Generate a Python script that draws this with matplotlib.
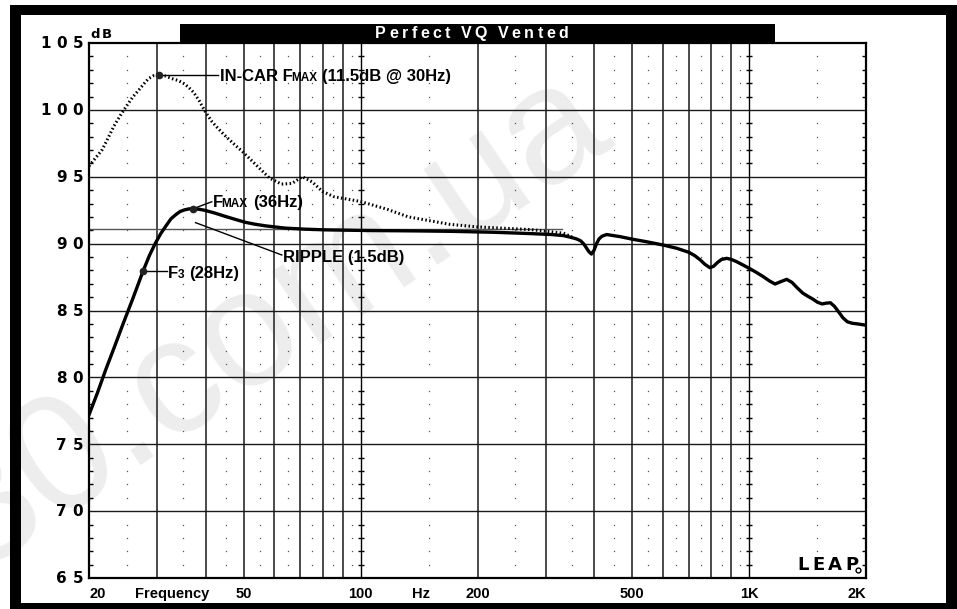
import matplotlib
matplotlib.use("Agg")
import matplotlib.pyplot as plt
from matplotlib.patches import Rectangle

W, H = 957, 609

# Perfect VQ vented response (solid) and in-car response (dotted)
solid_hz = [20, 21, 22.1, 23.2, 24.4, 25.9, 27.6, 28.6, 29.6, 30.6, 31.6, 32.5, 33.4, 34.3, 35.2, 36.2,
            37.2, 38.4, 39.6, 42, 44.7, 47.5, 50.4, 53.5, 56.9, 64, 72, 81, 104, 140, 170, 220, 274,
            310, 333, 350, 360, 369, 376, 381, 387, 393, 399, 405, 411, 418, 430, 466, 503, 545,
            600, 652, 700, 725, 749, 770, 793, 810, 830, 850, 876, 900, 929, 965, 1000, 1040, 1088,
            1130, 1167, 1205, 1250, 1290, 1330, 1375, 1420, 1460, 1500, 1542, 1580, 1620, 1660,
            1700, 1745, 1790, 1840, 1900, 2000]
solid_db = [77.2, 78.8, 80.6, 82.2, 83.9, 85.85, 88.0, 89.1, 90.0, 90.75, 91.35, 91.85, 92.15, 92.4, 92.52, 92.6,
            92.6, 92.57, 92.5, 92.3, 92.05, 91.82, 91.6, 91.45, 91.33, 91.16, 91.08, 91.03, 90.98, 90.95, 90.92, 90.85, 90.75,
            90.68, 90.6, 90.45, 90.35, 90.2, 89.95, 89.7, 89.4, 89.22, 89.5, 90.0, 90.35, 90.55, 90.68, 90.52, 90.32, 90.14,
            89.9, 89.65, 89.35, 89.1, 88.78, 88.45, 88.2, 88.3, 88.6, 88.82, 88.9, 88.82, 88.65, 88.4, 88.16, 87.88, 87.53,
            87.2, 86.98, 87.15, 87.33, 87.1, 86.7, 86.3, 86.05, 85.85, 85.62, 85.49, 85.55, 85.58, 85.3,
            84.9, 84.45, 84.16, 84.05, 84.0, 83.9]

car_hz = [20, 21.6, 22.4, 23.2, 24.1, 25, 25.9, 26.9, 27.7, 28.5, 29.3, 30.2, 31.3, 32.6, 33.9, 35.2,
          36.2, 37.2, 38.4, 39.6, 40.5, 41.5, 43, 44.7, 47, 50, 54.2, 58.3, 62.6, 66.6, 70.8, 75.2,
          79.8, 85.6, 100, 117.6, 132.7, 169, 200, 274, 333, 350]
car_db = [95.8, 97.0, 97.9, 98.8, 99.6, 100.3, 100.95, 101.5, 101.95, 102.35, 102.55, 102.6, 102.55, 102.35, 102.2, 101.95,
          101.65, 101.3, 100.7, 100.0, 99.55, 99.1, 98.6, 98.1, 97.5, 96.8, 95.8, 94.9, 94.45, 94.5, 95.0, 94.6,
          93.9, 93.5, 93.15, 92.55, 92.0, 91.45, 91.25, 91.05, 90.78, 90.5]

ripple_db = 91.12
ripple_hz = [20, 330]

# grid
grid_hz = [30, 40, 50, 60, 70, 80, 90, 200, 300, 400, 500, 600, 700, 800, 900]
grid_major_hz = [100, 1000]
dot_hz = [25, 35, 45, 55, 65, 75, 85, 95, 150, 250, 350, 450, 550, 650, 750, 850, 950, 1500]
db_levels = [65, 70, 75, 80, 85, 90, 95, 100, 105]
minor_db = [d for d in range(66, 105) if d % 5]

x_text = ["20", "Frequency", "50", "100", "Hz", "200", "500", "1K", "2K"]
x_text_hz = [20, 32.7, 50, 100, 143, 200, 500, 1000, 2000]
x_text_ha = ["left", "center", "center", "center", "center", "center", "center", "center", "right"]

# callouts: marker point, leader end
incar_pt, incar_end = (30.2, 102.6), (43.0, 102.6)
fmax_pt, fmax_end = (37.0, 92.6), (41.4, 93.13)
ripple_start, ripple_end = (37.6, 91.57), (62.7, 89.15)
f3_pt, f3_end = (27.6, 87.95), (31.8, 87.95)

fig = plt.figure(figsize=(W / 100, H / 100), dpi=100)
fig.patch.set_facecolor("white")
ax = fig.add_axes([89 / W, 1 - 578 / H, 777 / W, 535 / H])
ax.set_facecolor("none")


def px_rect(x0, y0, x1, y1, z=-1):
    fig.add_artist(Rectangle((x0 / W, 1 - y1 / H), (x1 - x0) / W, (y1 - y0) / H,
                             transform=fig.transFigure, facecolor="black", lw=0, zorder=z))


# watermark under everything
fig.text(-24 / W, 1 - 572 / H, "30.com.ua", rotation=34, rotation_mode="anchor",
         ha="left", va="baseline", fontsize=119, family="Liberation Sans",
         color="#ededed", zorder=-2)

# black frame and title bar
px_rect(10, 5, 957, 15)
px_rect(10, 5, 21, 609)
px_rect(946, 5, 957, 609)
px_rect(10, 603, 957, 609)
px_rect(180, 24, 775, 43)


def spaced(s, xy, xycoords, gap, space=4.0, offset=(0, 0), right=False, **kw):
    chars = s[::-1] if right else s
    t = ax.annotate(chars[0], xy=xy, xycoords=xycoords, xytext=offset, textcoords="offset points",
                    ha="right" if right else "left", va="baseline", annotation_clip=False, **kw)
    pad = 0
    for ch in chars[1:]:
        if ch == " ":
            pad += space
            continue
        if right:
            t = ax.annotate(ch, xy=(0, 0), xycoords=t, xytext=(-(gap + pad), 0), textcoords="offset points",
                            ha="right", va="bottom", annotation_clip=False, **kw)
        else:
            t = ax.annotate(ch, xy=(1, 0), xycoords=t, xytext=(gap + pad, 0), textcoords="offset points",
                            ha="left", va="bottom", annotation_clip=False, **kw)
        pad = 0
    return t


def label(pieces, xy, offset):
    # pieces: (text, fontsize, gap before)
    t = None
    for txt, size, gap in pieces:
        kw = dict(fontsize=size, family="Liberation Sans", fontweight="bold", annotation_clip=False)
        if t is None:
            t = ax.annotate(txt, xy=xy, xycoords="data", xytext=offset, textcoords="offset points",
                            ha="left", va="baseline", **kw)
        else:
            t = ax.annotate(txt, xy=(1, 0), xycoords=t, xytext=(gap, 0), textcoords="offset points",
                            ha="left", va="bottom", **kw)


ax.set_xscale("log")
ax.set_xlim(20, 2000)
ax.set_ylim(65, 105)
ax.set_xticks([])
ax.xaxis.set_minor_locator(matplotlib.ticker.NullLocator())
ax.set_yticks([])
ax.set_yticks(minor_db, minor=True)
ax.yaxis.set_minor_formatter(matplotlib.ticker.NullFormatter())
ax.tick_params(axis="y", which="minor", direction="in", left=True, right=True, length=3, width=1, color="black")
for sp in ax.spines.values():
    sp.set_linewidth(1.6)
    sp.set_color("black")

# grid lines
for f in grid_hz:
    ax.axvline(f, color="#4a4a4a", lw=1.4, zorder=1)
for f in grid_major_hz:
    ax.axvline(f, color="black", lw=1.0, zorder=1)
    ax.plot([f] * len(minor_db), minor_db, ls="none", marker="_", ms=5, mew=1, color="black", zorder=1)
for d in db_levels[1:-1]:
    ax.axhline(d, color="#1a1a1a", lw=1.0, zorder=1)
for f in dot_hz:
    ax.plot([f] * len(minor_db), minor_db, ls="none", marker="s", ms=0.9, mew=0, color="#555555", zorder=1)

ax.plot(ripple_hz, [ripple_db, ripple_db], color="#555555", lw=1, zorder=2)

# curves
ax.plot(car_hz, car_db, color="black", lw=2.2, ls=(0, (0.5, 0.8)), zorder=3)
ax.plot(solid_hz, solid_db, color="black", lw=2.4, zorder=4, solid_joinstyle="round")

# callouts
for p, e in [(incar_pt, incar_end), (fmax_pt, fmax_end), (ripple_start, ripple_end), (f3_pt, f3_end)]:
    ax.plot([p[0], e[0]], [p[1], e[1]], color="black", lw=1, zorder=5)
for p in [incar_pt, fmax_pt, f3_pt]:
    ax.plot([p[0]], [p[1]], marker="o", ms=4.5, color="#222222", zorder=6)

label([("IN-CAR F", 12, 0), ("MAX", 8.5, -1.2), ("(11.5dB @ 30Hz)", 12, 3.6)], incar_end, (1.5, -4.2))
label([("F", 12, 0), ("MAX", 8.5, -1.2), ("(36Hz)", 12, 3.6)], fmax_end, (1.0, -3.6))
label([("RIPPLE (1.5dB)", 12, 0)], ripple_end, (1.0, -4.8))
label([("F", 12, 0), ("3", 8.5, -0.6), ("(28Hz)", 12, 3.6)], f3_end, (0.6, -5.3))

# x labels
for txt, f, ha in zip(x_text, x_text_hz, x_text_ha):
    ax.annotate(txt, xy=(f, 0), xycoords=("data", "axes fraction"), xytext=(0, -14.4),
                textcoords="offset points", ha=ha, va="baseline", fontsize=10.5,
                family="Liberation Sans", fontweight="bold", annotation_clip=False)

# y labels, letter spaced
for d in db_levels:
    spaced(str(d), (83, d), ("figure pixels", "data"), gap=3.8,
           offset=(0, -3.8), right=True, fontsize=11, family="DejaVu Sans", fontweight="bold")

spaced("dB", (90, H - 38), "figure pixels", gap=1.6, fontsize=9.5, family="DejaVu Sans", fontweight="bold")
spaced("Perfect VQ Vented", (375, H - 37.7), "figure pixels", gap=2.5, space=5.0,
       fontsize=11.5, family="Liberation Sans", fontweight="bold", color="white")

# LEAP logo
spaced("LEAP", (797, H - 570.5), "figure pixels", gap=2.6, fontsize=13, family="DejaVu Sans",
       fontweight="bold")
ax.plot([1906], [65.6], marker="o", mfc="white", mec="black", ms=3.5, mew=1, clip_on=False, zorder=6)

fig.savefig("out.png", dpi=100, facecolor="white")
